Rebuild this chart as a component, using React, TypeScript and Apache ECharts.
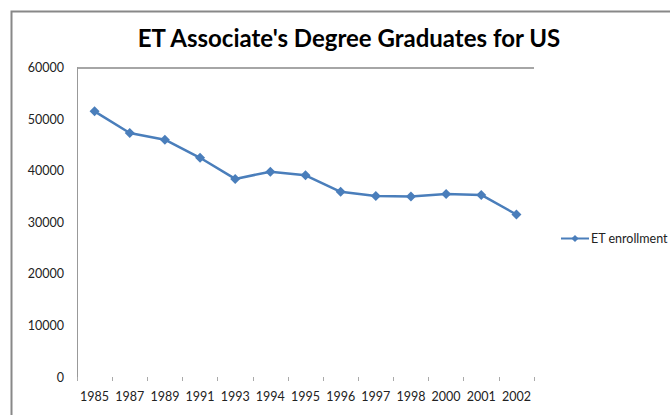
import React, { useEffect, useRef } from "react";
import * as echarts from "echarts";

const years = ["1985", "1987", "1989", "1991", "1993", "1994", "1995", "1996", "1997", "1998", "2000", "2001", "2002"];
const enrollment = [51500, 47300, 46000, 42500, 38400, 39800, 39100, 35900, 35100, 35000, 35500, 35300, 31500];
const seriesName = "ET enrollment";
const titleText = "ET Associate's Degree Graduates for US";

export default function App() {
  const ref = useRef<HTMLDivElement>(null);
  useEffect(() => {
    if (!ref.current) return;
    const chart = echarts.init(ref.current, null, { renderer: "svg" });
    chart.setOption({
      animation: false,
      backgroundColor: "#ffffff",
      textStyle: { fontFamily: "Lato, 'Open Sans', sans-serif" },
      title: {
        text: titleText,
        left: 344,
        textAlign: "center",
        top: 20,
        textStyle: { fontFamily: "Lato, 'Open Sans', sans-serif", fontWeight: "bold", fontSize: 24, color: "#000" },
      },
      graphic: [
        {
          type: "rect",
          shape: { x: 11.5, y: 11.5, width: 700, height: 450 },
          style: { fill: "none", stroke: "#888", lineWidth: 2 },
          silent: true,
        },
      ],
      legend: {
        left: 555,
        top: 227,
        itemWidth: 28,
        itemHeight: 9,
        itemGap: 4,
        data: [seriesName],
        textStyle: { fontSize: 12.5, color: "#222", padding: [0, 0, 0, -3] },
      },
      grid: { left: 77, right: 136, top: 67.5, bottom: 38 },
      xAxis: {
        type: "category",
        data: years,
        boundaryGap: true,
        axisLine: { show: false },
        axisTick: { show: true, length: 4, lineStyle: { color: "#aaa" } },
        axisLabel: { fontSize: 12.5, color: "#222", margin: 13, interval: 0 },
      },
      yAxis: {
        type: "value",
        min: 0,
        max: 60000,
        interval: 10000,
        axisLine: { show: true, lineStyle: { color: "#999" } },
        axisTick: { show: false },
        axisLabel: { fontSize: 12.5, color: "#222", margin: 13, formatter: (v: number) => String(v) },
        splitLine: {
          show: true,
          lineStyle: { color: ["transparent", "transparent", "transparent", "transparent", "transparent", "transparent", "#888"], width: 1.5 },
        },
      },
      series: [
        {
          name: seriesName,
          type: "line",
          data: enrollment,
          symbol: "diamond",
          symbolSize: 10,
          itemStyle: { color: "#4a7ebb" },
          lineStyle: { color: "#4a7ebb", width: 2.5 },
        },
      ],
    });
    return () => chart.dispose();
  }, []);
  return <div ref={ref} style={{ position: "fixed", left: 0, top: 0, width: 670, height: 415 }} />;
}
